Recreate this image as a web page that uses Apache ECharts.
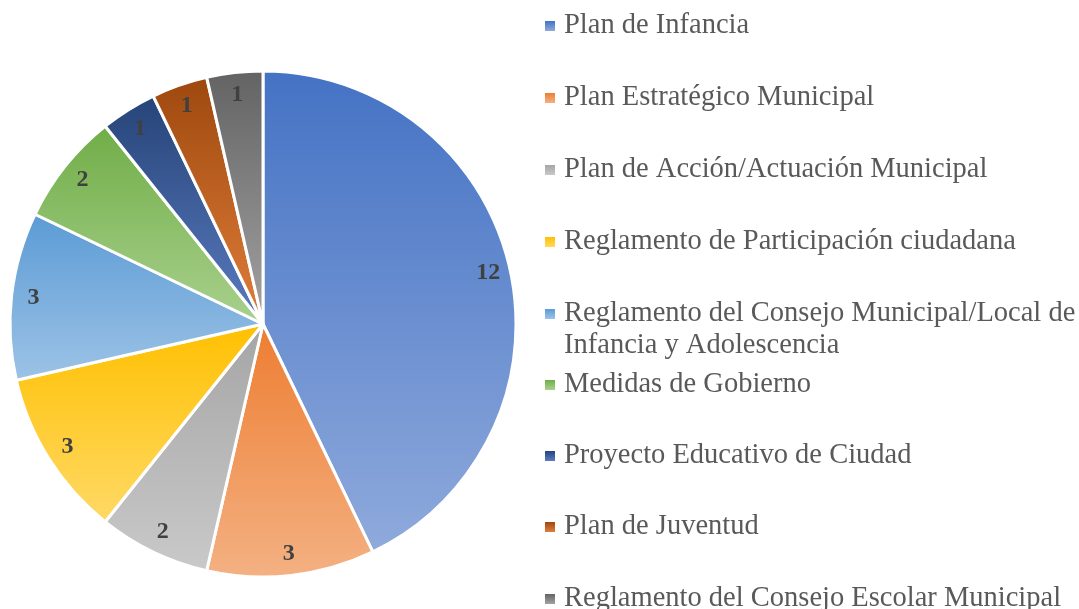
<!DOCTYPE html>
<html>
<head>
<meta charset="utf-8">
<script src="https://cdn.jsdelivr.net/npm/echarts@6/dist/echarts.min.js"></script>
<style>
  html, body { margin: 0; padding: 0; background: #fff; }
  #main { width: 1079px; height: 609px; }
</style>
</head>
<body>
<div id="main"></div>
<script>
// 文书类型分布
const categories = [
  'Plan de Infancia',
  'Plan Estratégico Municipal',
  'Plan de Acción/Actuación Municipal',
  'Reglamento de Participación ciudadana',
  'Reglamento del Consejo Municipal/Local de\nInfancia y Adolescencia',
  'Medidas de Gobierno',
  'Proyecto Educativo de Ciudad',
  'Plan de Juventud',
  'Reglamento del Consejo Escolar Municipal'
]
const values = [12, 3, 2, 3, 3, 2, 1, 1, 1]

// 渐变色 (上 -> 下)
const topColors = ['#4472C4', '#ED7D31', '#A5A5A5', '#FFC000', '#5B9BD5', '#70AD47', '#264478', '#9E480E', '#636363']
const bottomColors = ['#8FAADC', '#F4B183', '#C9C9C9', '#FFD966', '#9DC3E6', '#A9D18E', '#5A7BC0', '#E07E3A', '#A3A3A3']

const serif = "'Liberation Serif', 'Times New Roman', serif"
const center = [263, 324]

const chart = echarts.init(document.getElementById('main'))

const pieData = categories.map((name, i) => ({
  name: name,
  value: values[i],
  itemStyle: {
    color: new echarts.graphic.LinearGradient(0, 0, 0, 1, [
      { offset: 0, color: topColors[i] },
      { offset: 1, color: bottomColors[i] }
    ])
  }
}))

// 图例中心位置
const legendCenters = [26, 98, 170, 242, 314, 385, 456, 527, 599]
const legends = categories.map((name, i) => {
  const multi = name.indexOf('\n') >= 0
  return {
    data: [name],
    orient: 'vertical',
    left: 545,
    top: multi ? legendCenters[i] - 48 : legendCenters[i] - 16,
    padding: 0,
    itemWidth: 10,
    itemHeight: 10,
    icon: 'rect',
    selectedMode: false,
    itemStyle: { borderWidth: 0 },
    // 多行时在前面补一空行, 使图标对齐第一行
    formatter: multi ? n => ' \n' + n : '{name}',
    textStyle: {
      fontFamily: serif,
      fontSize: 28.5,
      lineHeight: 32,
      color: '#595959',
      padding: [0, 0, 0, 4]
    }
  }
})

chart.setOption({
  animation: false,
  legend: legends,
  series: [
    {
      name: 'main',
      type: 'pie',
      center: center,
      radius: 253,
      startAngle: 90,
      clockwise: true,
      silent: true,
      data: pieData,
      label: { show: false },
      labelLine: { show: false },
      itemStyle: { borderColor: '#fff', borderWidth: 3 }
    },
    {
      // 标签层
      name: 'labels',
      type: 'pie',
      center: center,
      radius: [200, 256],
      startAngle: 90,
      clockwise: true,
      silent: true,
      data: categories.map((name, i) => ({ name: name, value: values[i] })),
      itemStyle: { color: 'rgba(0,0,0,0)', borderWidth: 0 },
      label: {
        show: true,
        position: 'inside',
        formatter: '{c}',
        fontFamily: serif,
        fontWeight: 'bold',
        fontSize: 24,
        color: '#404040'
      },
      labelLine: { show: false }
    }
  ]
})
</script>
</body>
</html>
